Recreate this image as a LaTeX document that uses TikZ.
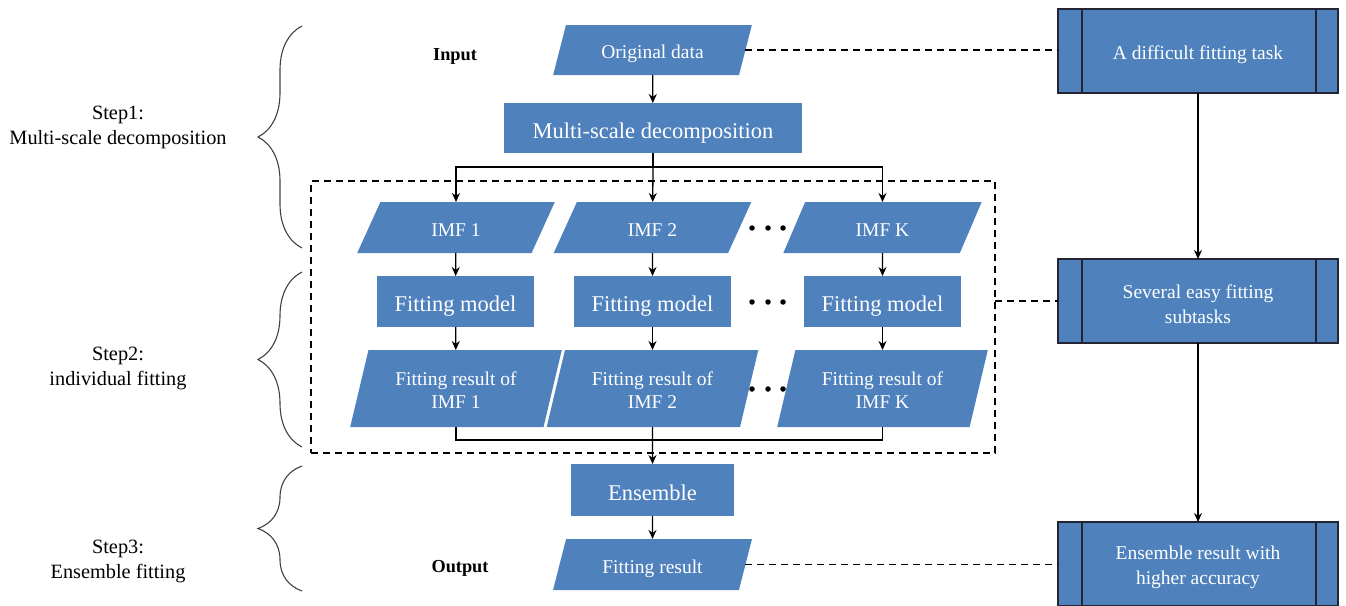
\documentclass[tikz,border=0pt]{standalone}
\usepackage{fontspec}
\setmainfont{Liberation Serif}
\usetikzlibrary{shapes.geometric,arrows.meta,decorations.pathreplacing}
\definecolor{boxblue}{RGB}{79,129,189}
\definecolor{darkedge}{RGB}{35,38,50}
\newcommand{\topstrut}{\rule{0pt}{1em}}
\newcommand{\smallstrut}{\rule{0pt}{0.82em}}
\tikzset{
  base/.style={fill=boxblue, text=white, inner sep=0pt, outer sep=0pt, align=center},
  oneline/.style={text height=#1, text depth=0pt},
  smalltxt/.style={font=\fontsize{19.5}{23}\selectfont},
  smallone/.style={smalltxt, oneline=17pt},
  bigtxt/.style={font=\fontsize{22.5}{22.5}\selectfont, oneline=20pt},
  rbox/.style={base, rectangle, minimum width=#1},
  para/.style n args={3}{base, trapezium, trapezium stretches=true,
     minimum width=#1, minimum height=#2, trapezium left angle=#3, trapezium right angle=180-#3},
  sidebox/.style={base, draw=darkedge, line width=1.4pt, minimum width=280, minimum height=84,
     font=\fontsize{19.5}{25}\selectfont},
  arr/.style={line width=1.3pt, -{Stealth[length=9pt,width=8pt]}},
  plain/.style={line width=1.3pt},
  dline/.style={line width=1.2pt, dash pattern=on 7pt off 5pt},
  bracestyle/.style={draw=black!75, line width=1.1pt, decorate,
     decoration={brace, amplitude=44pt}},
  steplabel/.style={align=center, font=\fontsize{20.3}{25}\selectfont},
  iolabel/.style={font=\bfseries\fontsize{18.3}{18.3}\selectfont, oneline=16pt},
  dot/.style={circle, fill=black, inner sep=0pt, minimum size=5.5pt},
}
\begin{document}
\begin{tikzpicture}[x=1pt,y=-1pt]
\useasboundingbox (0,0) rectangle (1346,605);

% left labels and braces
\node[steplabel] (s1) at (118,124) {\topstrut Step1:\\Multi-scale decomposition};
\node[steplabel] (s2) at (118,365) {\topstrut Step2:\\individual fitting};
\node[steplabel] (s3) at (118,558) {\topstrut Step3:\\Ensemble fitting};
\draw[bracestyle] (302,248) -- (302,26);
\draw[bracestyle] (302,447) -- (302,272);
\draw[bracestyle] (302,591) -- (302,466);

\node[iolabel] (inp) at (455,52) {Input};
\node[iolabel] (outp) at (460,564) {Output};

% group box
\node[draw, dline, minimum width=684, minimum height=272, inner sep=0pt, outer sep=0pt] (grp) at (653,317) {};

% main flow
\node[para={199}{50}{66}, smallone] (od) at (652.5,50) {Original data};
\node[rbox=298, minimum height=50, bigtxt] (msd) at (653,128) {Multi-scale decomposition};

\node[para={198}{51}{66}, smallone] (imf1) at (456,227.5) {IMF 1};
\node[para={198}{51}{66}, smallone] (imf2) at (652.5,227.5) {IMF 2};
\node[para={199}{51}{66}, smallone] (imfK) at (882.5,227.5) {IMF K};

\node[rbox=157, minimum height=51, bigtxt] (fm1) at (455.5,301.5) {Fitting model};
\node[rbox=157, minimum height=51, bigtxt] (fm2) at (652.5,301.5) {Fitting model};
\node[rbox=157, minimum height=51, bigtxt] (fmK) at (882.5,301.5) {Fitting model};

\node[para={212}{77}{72}, smalltxt] (res1) at (456,388.5) {\smallstrut Fitting result of\\IMF 1};
\node[para={212}{77}{72}, smalltxt] (res2) at (652.5,388.5) {\smallstrut Fitting result of\\IMF 2};
\node[para={211}{77}{72}, smalltxt] (resK) at (882.5,388.5) {\smallstrut Fitting result of\\IMF K};

\node[rbox=163, minimum height=52, bigtxt] (ens) at (652.5,490) {Ensemble};
\node[para={199}{51}{66}, smallone] (fr) at (652.5,564.5) {Fitting result};

% dots
\foreach \yy/\nm in {228/a,302/b,389/c}{
  \node[dot] (d\nm1) at (752,\yy) {};
  \node[dot] (d\nm2) at (768,\yy) {};
  \node[dot] (d\nm3) at (783,\yy) {};
}

% right column
\node[sidebox, oneline=17pt] (b1) at (1198,51) {A difficult fitting task};
\node[sidebox] (b2) at (1198,301) {\topstrut Several easy fitting\\subtasks};
\node[sidebox] (b3) at (1198,564) {\topstrut Ensemble result with\\higher accuracy};
\foreach \b in {b1,b2,b3}{
  \draw[draw=darkedge, line width=1.4pt] ([xshift=24pt]\b.north west) -- ([xshift=24pt]\b.south west);
  \draw[draw=darkedge, line width=1.4pt] ([xshift=-22pt]\b.north east) -- ([xshift=-22pt]\b.south east);
}

% connectors
\draw[arr] (od) -- (msd);
\coordinate (split) at ([yshift=-14pt]msd.south);
\draw[plain] (msd.south) -- (split);
\draw[arr] (split) -| (imf1);
\draw[arr] (split) -- (imf2);
\draw[arr] (split) -| (imfK);
\draw[arr] (imf1) -- (fm1);
\draw[arr] (imf2) -- (fm2);
\draw[arr] (imfK) -- (fmK);
\draw[arr] (fm1) -- (res1);
\draw[arr] (fm2) -- (res2);
\draw[arr] (fmK) -- (resK);
\coordinate (merge) at (652.5,440);
\draw[plain] (res1) |- (merge);
\draw[plain] (resK) |- (merge);
\draw[arr] (res2) -- (ens);
\draw[arr] (ens) -- (fr);

\draw[dline] (od.east) -- (od.east -| b1.west);
\draw[dline] (grp.east |- b2.west) -- (b2.west);
\draw[dline] (fr.east) -- (fr.east -| b3.west);
\draw[arr] (b1) -- (b2);
\draw[arr] (b2) -- (b3);
\end{tikzpicture}
\end{document}
